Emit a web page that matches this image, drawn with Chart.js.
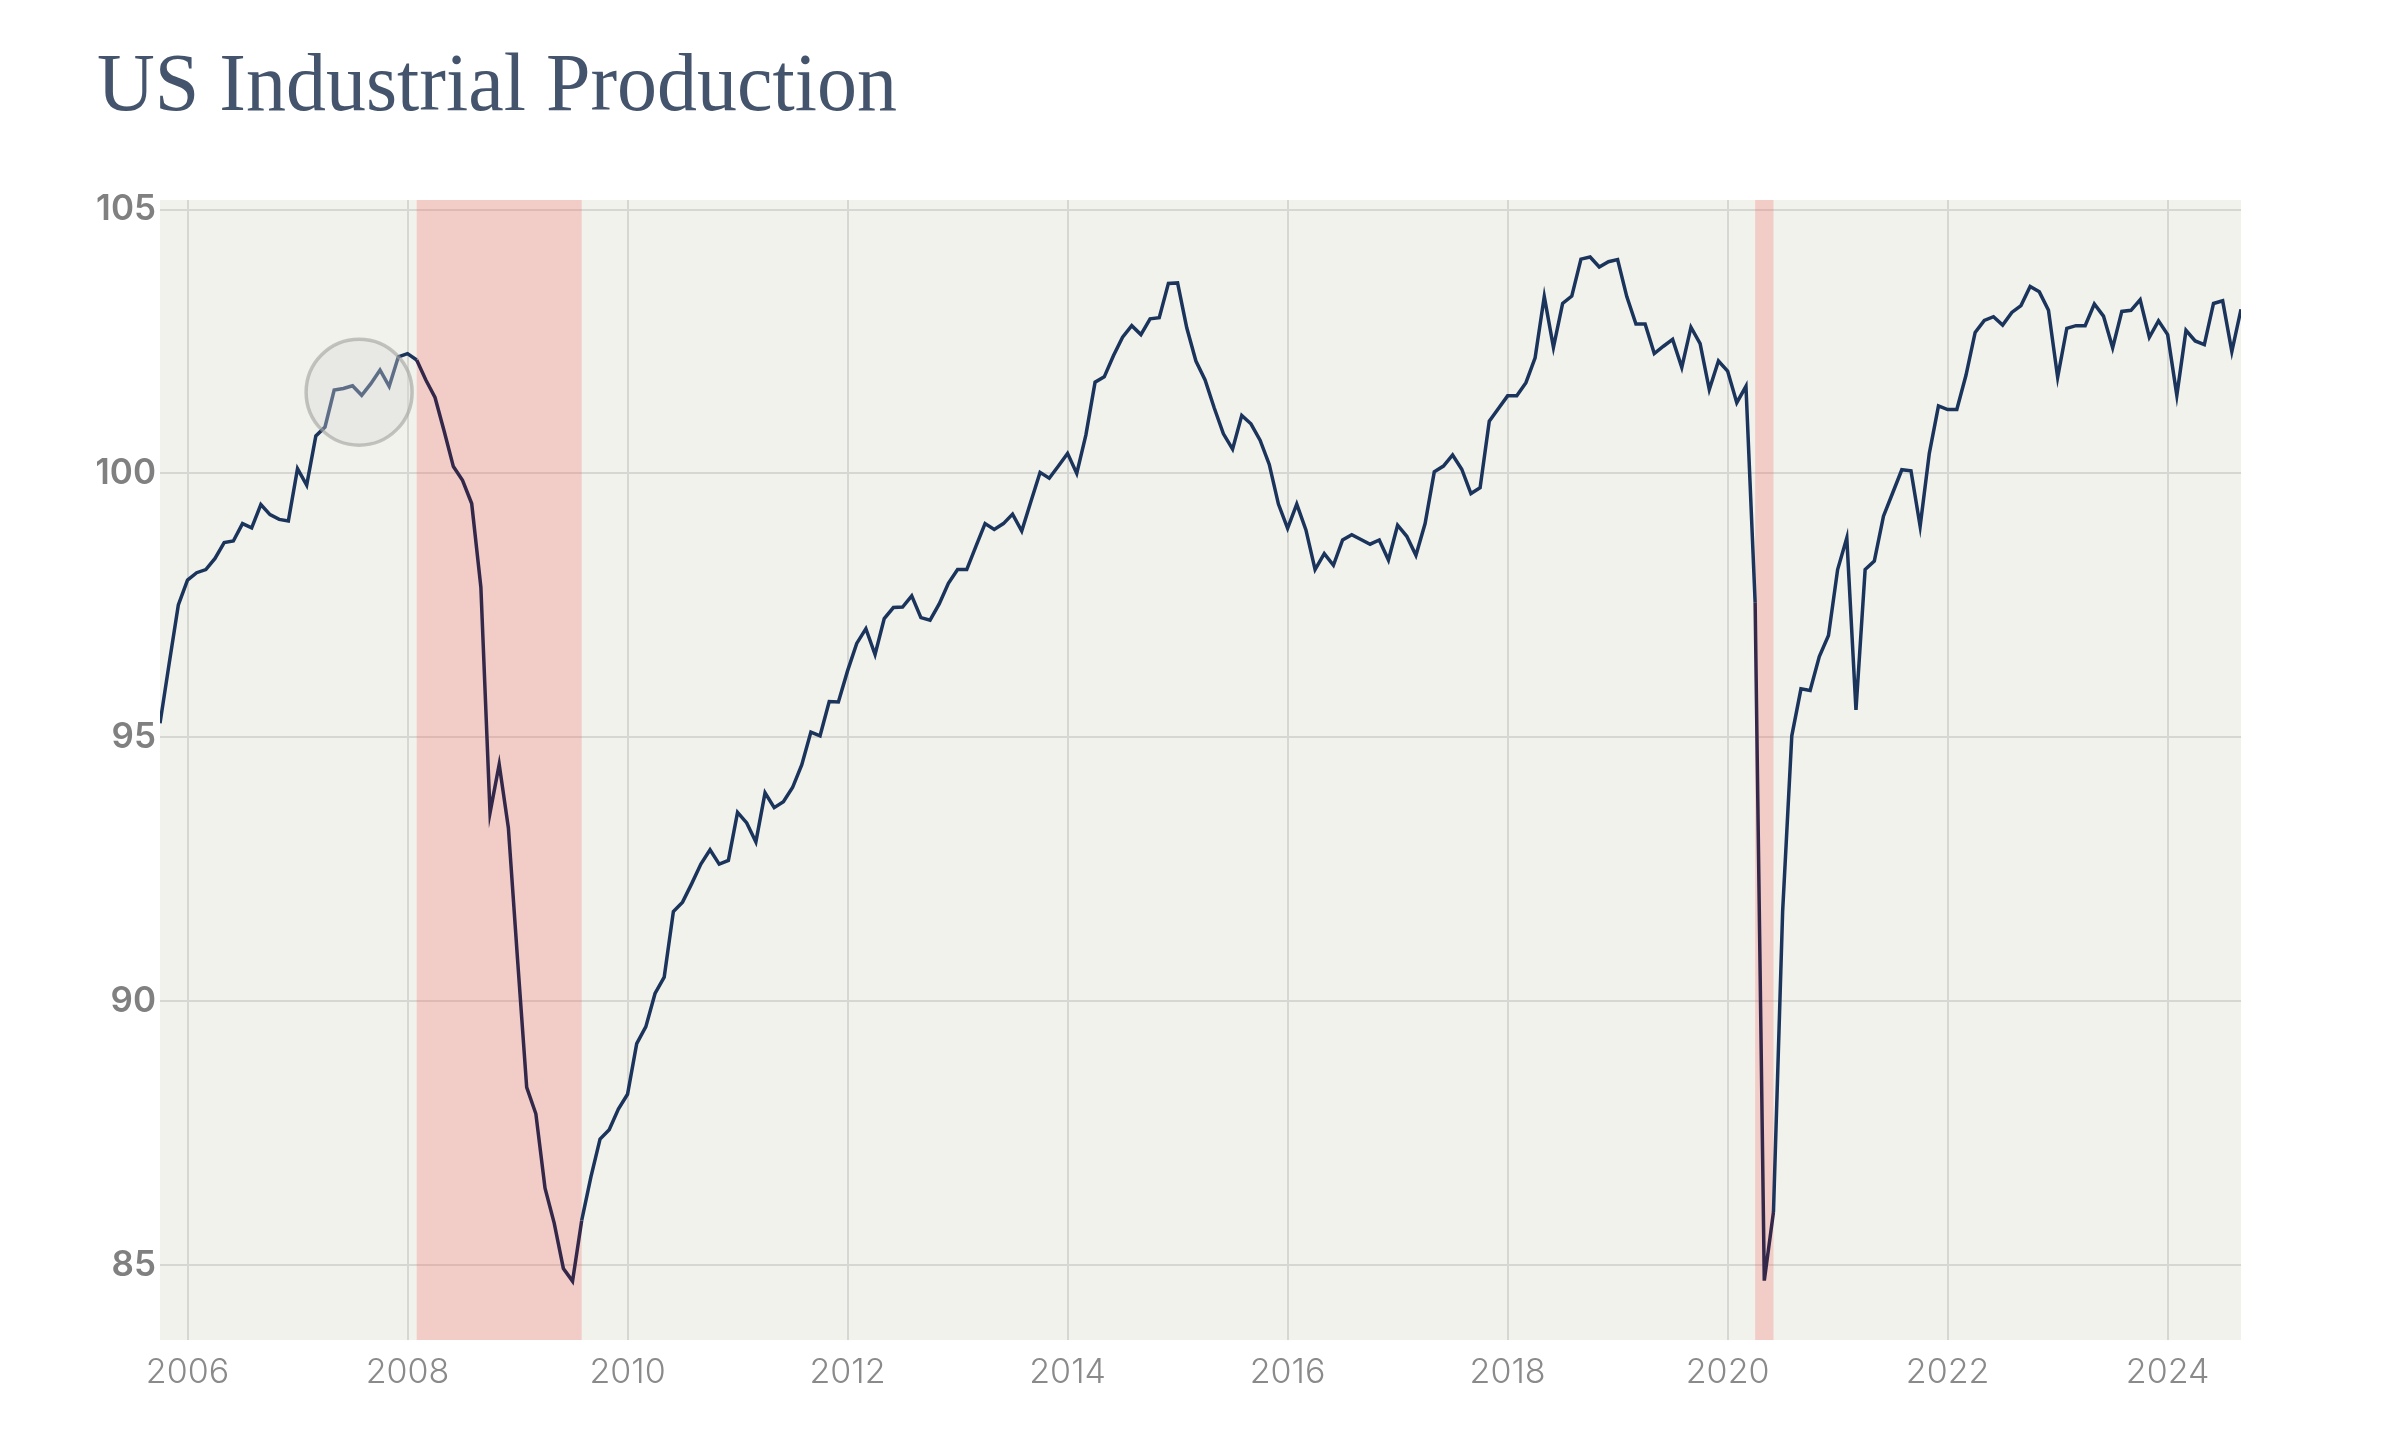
<!DOCTYPE html>
<html>
<head>
<meta charset="utf-8">
<script src="https://cdn.jsdelivr.net/npm/chart.js@4.4.1/dist/chart.umd.min.js"></script>
<style>
  html, body { margin: 0; padding: 0; background: #ffffff; }
  #wrap { width: 2400px; height: 1440px; }
</style>
</head>
<body>
<div id="wrap"><canvas id="c" width="2400" height="1440"></canvas></div>
<script>
// ---------------- DATA ----------------
const chartTitle = 'US Industrial Production';
const firstMonth = '2005-10';           // month of the first value
const industrialProduction = [
  // 2005 (Oct-Dec)
  95.27, 96.4, 97.51,
  // 2006
  97.98, 98.12, 98.18, 98.39, 98.69, 98.72, 99.05, 98.97, 99.41, 99.22, 99.13, 99.10,
  // 2007
  100.09, 99.78, 100.71, 100.88, 101.58, 101.61, 101.66, 101.48, 101.70, 101.96, 101.65, 102.21,
  // 2008
  102.27, 102.15, 101.77, 101.44, 100.8, 100.13, 99.87, 99.43, 97.85, 93.57, 94.49, 93.29,
  // 2009
  90.8, 88.37, 87.87, 86.46, 85.80, 84.94, 84.70, 85.85, 86.67, 87.39, 87.57, 87.96,
  // 2010
  88.24, 89.2, 89.52, 90.15, 90.46, 91.70, 91.88, 92.23, 92.6, 92.87, 92.6, 92.67,
  // 2011
  93.58, 93.38, 93.02, 93.95, 93.67, 93.78, 94.05, 94.48, 95.10, 95.03, 95.68, 95.67,
  // 2012
  96.26, 96.78, 97.06, 96.57, 97.25, 97.46, 97.47, 97.68, 97.27, 97.22, 97.53, 97.92,
  // 2013
  98.18, 98.18, 98.62, 99.05, 98.94, 99.05, 99.23, 98.91, 99.47, 100.02, 99.91, 100.14,
  // 2014
  100.38, 100.0, 100.73, 101.73, 101.83, 102.23, 102.58, 102.80, 102.63, 102.93, 102.95, 103.60,
  // 2015
  103.61, 102.76, 102.13, 101.77, 101.24, 100.75, 100.46, 101.10, 100.94, 100.63, 100.17, 99.42,
  // 2016
  98.96, 99.42, 98.93, 98.18, 98.48, 98.26, 98.74, 98.84, 98.75, 98.66, 98.74, 98.36,
  // 2017
  99.02, 98.81, 98.45, 99.05, 100.03, 100.14, 100.35, 100.08, 99.62, 99.73, 100.99, 101.23,
  // 2018
  101.47, 101.47, 101.72, 102.19, 103.35, 102.39, 103.22, 103.36, 104.06, 104.10, 103.91, 104.01,
  // 2019
  104.05, 103.35, 102.83, 102.83, 102.27, 102.41, 102.54, 102.01, 102.77, 102.46, 101.59, 102.13,
  // 2020
  101.94, 101.34, 101.65, 97.56, 84.71, 86.01, 91.7, 95.03, 95.92, 95.89, 96.53, 96.93,
  // 2021
  98.18, 98.78, 95.52, 98.18, 98.34, 99.19, 99.63, 100.07, 100.05, 99.0, 100.38, 101.28,
  // 2022
  101.21, 101.21, 101.86, 102.67, 102.90, 102.97, 102.81, 103.05, 103.18, 103.54, 103.44, 103.09,
  // 2023
  101.82, 102.75, 102.80, 102.80, 103.21, 102.98, 102.38, 103.07, 103.09, 103.29, 102.58, 102.89,
  // 2024 (Jan-Sep)
  102.63, 101.48, 102.71, 102.51, 102.44, 103.22, 103.27, 102.31, 103.11
];
const xTickYears = [2006, 2008, 2010, 2012, 2014, 2016, 2018, 2020, 2022, 2024];
const yTickValues = [85, 90, 95, 100, 105];
const recessions = [
  { from: '2008-02', to: '2009-08' },
  { from: '2020-04', to: '2020-06' }
];
const highlight = { x: 2007.56, y: 101.54 };   // circled pre-crisis peak area
const yRange = { min: 83.585, max: 105.18 };

// ---------------- HELPERS ----------------
const toYear = s => Number(s.slice(0, 4)) + (Number(s.slice(5, 7)) - 1) / 12;
const startX = toYear(firstMonth);
const points = industrialProduction.map((v, i) => ({ x: startX + i / 12, y: v }));
const recessionRanges = recessions.map(r => [toYear(r.from), toYear(r.to)]);
const inRecession = x => recessionRanges.some(([a, b]) => x >= a && x <= b);

const LINE = '#1b345c';
const LINE_IN_RECESSION = '#33284a';

const plotBg = {
  id: 'plotBg',
  beforeDraw(chart) {
    const { ctx, chartArea: a } = chart;
    ctx.save();
    ctx.fillStyle = '#f2f2ec';
    ctx.fillRect(a.left, a.top, a.right - a.left, a.bottom - a.top);
    ctx.restore();
  }
};

const recessionBands = {
  id: 'recessionBands',
  beforeDatasetsDraw(chart) {
    const { ctx, chartArea: a, scales: { x } } = chart;
    ctx.save();
    ctx.beginPath();
    ctx.rect(a.left, a.top, a.right - a.left, a.bottom - a.top);
    ctx.clip();
    ctx.fillStyle = 'rgba(245,110,105,0.28)';
    recessionRanges.forEach(([f, t]) => {
      const x0 = x.getPixelForValue(f), x1 = x.getPixelForValue(t);
      ctx.fillRect(x0, a.top, x1 - x0, a.bottom - a.top);
    });
    ctx.restore();
  }
};

const circleMark = {
  id: 'circleMark',
  afterDatasetsDraw(chart) {
    const { ctx, scales: { x, y } } = chart;
    const cx = x.getPixelForValue(highlight.x), cy = y.getPixelForValue(highlight.y);
    ctx.save();
    ctx.beginPath();
    ctx.arc(cx, cy, 53, 0, Math.PI * 2);
    ctx.fillStyle = 'rgba(214,214,214,0.36)';
    ctx.fill();
    ctx.lineWidth = 3.5;
    ctx.strokeStyle = 'rgba(160,160,158,0.6)';
    ctx.stroke();
    ctx.restore();
  }
};

const titlePlugin = {
  id: 'titleText',
  afterDraw(chart) {
    const ctx = chart.ctx;
    ctx.save();
    ctx.font = '82px "Liberation Serif"';
    ctx.fillStyle = '#44546c';
    ctx.textBaseline = 'alphabetic';
    ctx.textAlign = 'left';
    ctx.fillText(chartTitle, 97, 110, 800);
    ctx.restore();
  }
};

new Chart(document.getElementById('c'), {
  type: 'line',
  data: {
    datasets: [{
      data: points,
      borderColor: LINE,
      borderWidth: 3.5,
      pointRadius: 0,
      tension: 0,
      fill: false,
      segment: {
        borderColor: c => inRecession((c.p0.parsed.x + c.p1.parsed.x) / 2) ? LINE_IN_RECESSION : LINE
      }
    }]
  },
  options: {
    responsive: false,
    devicePixelRatio: 1,
    animation: false,
    layout: { padding: { left: 97, right: 159, top: 200, bottom: 0 } },
    plugins: { legend: { display: false }, tooltip: { enabled: false }, title: { display: false } },
    scales: {
      x: {
        type: 'linear',
        min: startX,
        max: startX + (industrialProduction.length - 1) / 12,
        afterBuildTicks: s => { s.ticks = xTickYears.map(v => ({ value: v })); },
        afterFit: s => { s.height = 100; },
        grid: { color: '#d6d6d2', lineWidth: 2, drawTicks: false },
        border: { display: false },
        ticks: {
          padding: 12,
          color: '#8a8a8a',
          font: { family: 'Inter', size: 34, weight: 300 },
          callback: v => String(v),
          maxRotation: 0
        }
      },
      y: {
        min: yRange.min,
        max: yRange.max,
        afterBuildTicks: s => { s.ticks = yTickValues.map(v => ({ value: v })); },
        afterFit: s => { s.width = 63; },
        grid: { color: '#d6d6d2', lineWidth: 2, drawTicks: false },
        border: { display: false },
        ticks: {
          padding: 4,
          color: '#808080',
          font: { family: 'Inter', size: 35, weight: 600 },
          callback: v => String(v)
        }
      }
    }
  },
  plugins: [plotBg, recessionBands, circleMark, titlePlugin]
});
</script>
</body>
</html>
